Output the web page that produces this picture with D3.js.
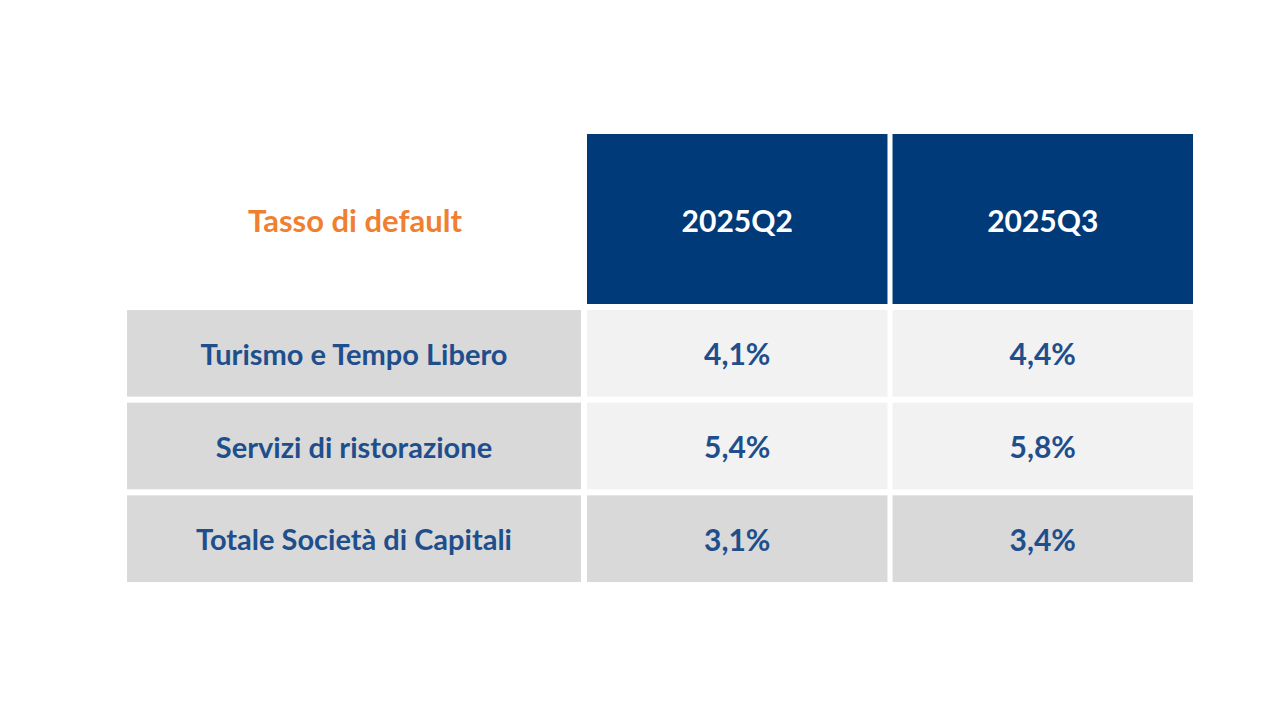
<!DOCTYPE html>
<html><head><meta charset="utf-8">
<script src="https://cdn.jsdelivr.net/npm/d3@7"></script>
<style>body{margin:0;background:#fff}</style>
</head><body>
<script>
const title = "Tasso di default";
const periods = ["2025Q2", "2025Q3"];
const sectors = ["Turismo e Tempo Libero", "Servizi di ristorazione", "Totale Società di Capitali"];
const q2 = ["4,1%", "5,4%", "3,1%"];
const q3 = ["4,4%", "5,8%", "3,4%"];

const svg = d3.select("body").append("svg").attr("width", 1280).attr("height", 720);
const font = "Lato, 'Open Sans', sans-serif";

// column scale: label column + periods
const cols = ["label", ...periods];
const colX = {label: [127, 581]};
const x = d3.scaleBand().domain(periods).range([587, 1193]).paddingInner(5 / 606 * 2);
const y = d3.scaleBand().domain(sectors).range([310, 582]).paddingInner(0.065);

// header
svg.append("text").attr("x", 355).attr("y", 220).attr("text-anchor", "middle")
    .attr("dominant-baseline", "central").attr("font-family", font).attr("font-weight", 700)
    .attr("font-size", 31).attr("fill", "#f07f32").text(title);
svg.selectAll("rect.hd").data(periods).enter().append("rect")
    .attr("x", d => x(d)).attr("y", 134).attr("width", x.bandwidth()).attr("height", 170)
    .attr("fill", "#003a78");
svg.selectAll("text.hd").data(periods).enter().append("text")
    .attr("x", d => x(d) + x.bandwidth() / 2).attr("y", 220).attr("text-anchor", "middle")
    .attr("dominant-baseline", "central").attr("font-family", font).attr("font-weight", 700)
    .attr("font-size", 30).attr("fill", "#fff").text(d => d);

// rows
const rows = sectors.map((s, i) => ({s, i, vals: [q2[i], q3[i]]}));
const g = svg.selectAll("g.row").data(rows).enter().append("g");
g.append("rect").attr("x", 127).attr("y", d => y(d.s)).attr("width", 454)
    .attr("height", y.bandwidth()).attr("fill", "#d9d9d9");
g.append("text").attr("x", 354).attr("y", d => y(d.s) + y.bandwidth() / 2)
    .attr("text-anchor", "middle").attr("dominant-baseline", "central")
    .attr("font-family", font).attr("font-weight", 700).attr("font-size", 29)
    .attr("fill", "#1f4e8c").text(d => d.s);
g.each(function (d) {
    const row = d3.select(this);
    periods.forEach((p, j) => {
        row.append("rect").attr("x", x(p)).attr("y", y(d.s)).attr("width", x.bandwidth())
            .attr("height", y.bandwidth()).attr("fill", d.i === 2 ? "#d9d9d9" : "#f2f2f2");
        row.append("text").attr("x", x(p) + x.bandwidth() / 2).attr("y", y(d.s) + y.bandwidth() / 2)
            .attr("text-anchor", "middle").attr("dominant-baseline", "central")
            .attr("font-family", font).attr("font-weight", 700).attr("font-size", 30)
            .attr("fill", "#1f4e8c").text(d.vals[j]);
    });
});
</script>
</body></html>
